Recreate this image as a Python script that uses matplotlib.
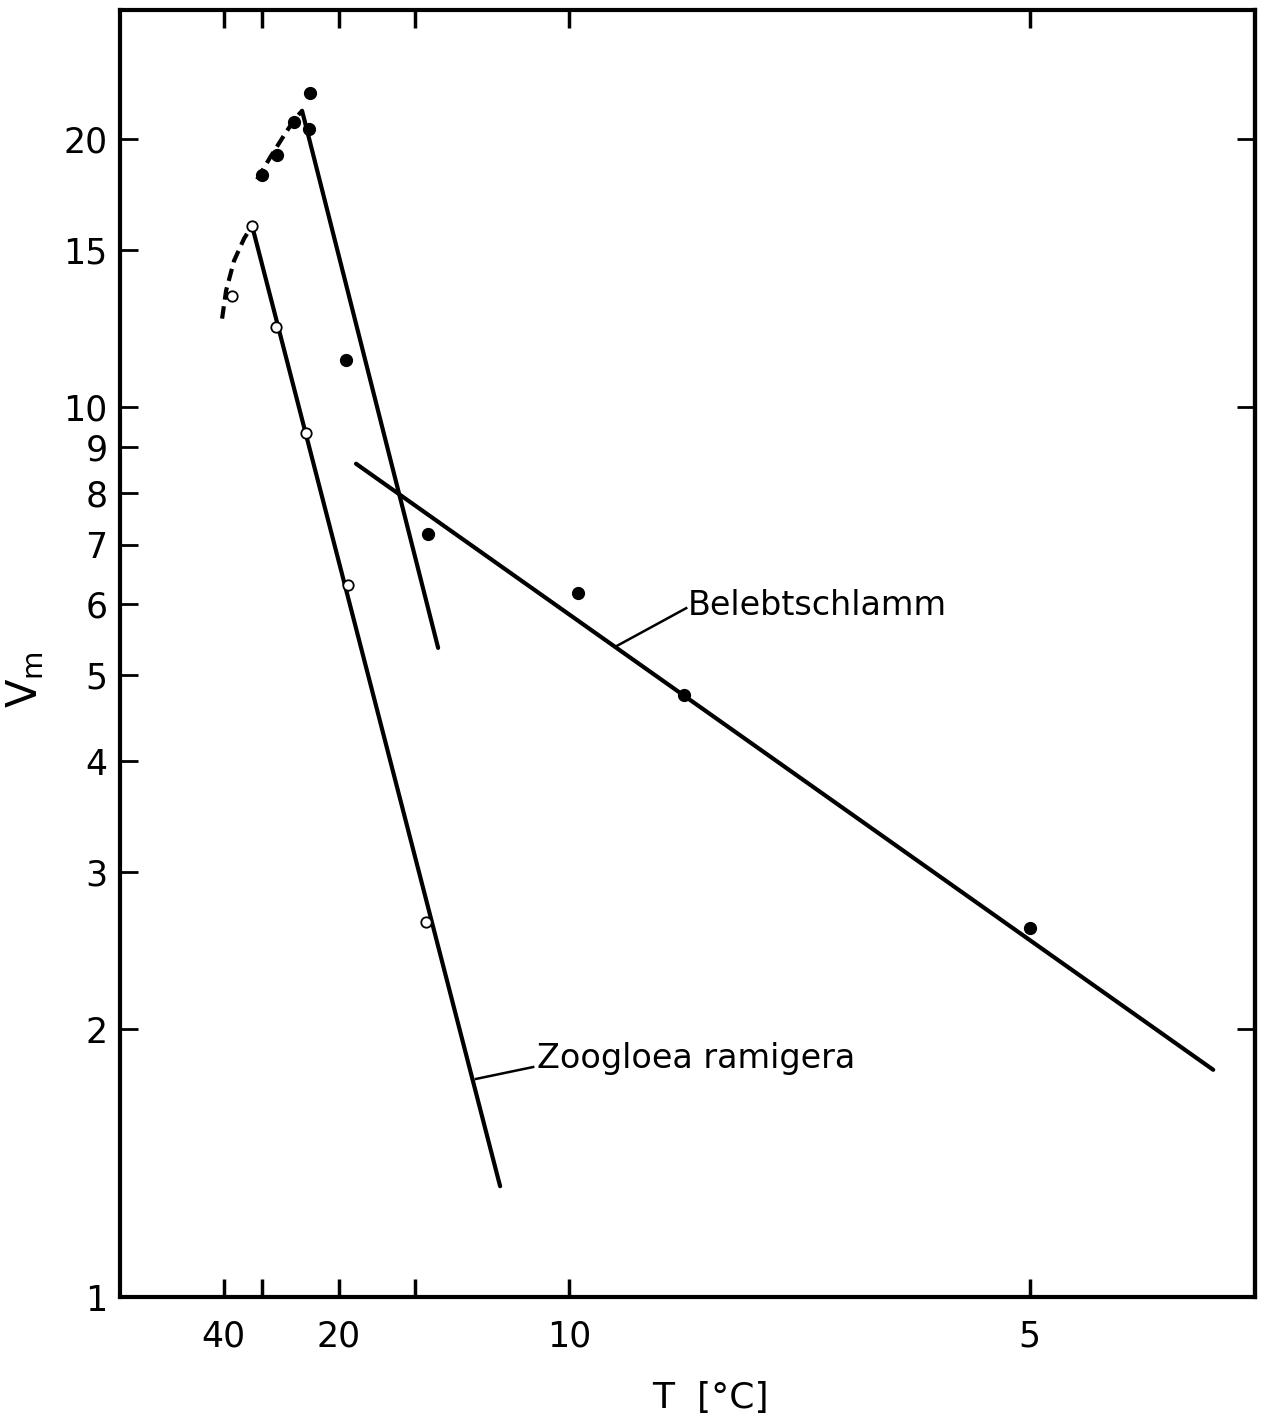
import numpy as np
import matplotlib
matplotlib.use("Agg")
import matplotlib.pyplot as plt

# Belebtschlamm (activated sludge), filled circles
bs_T = [22.8, 22.95, 24.8, 27.3, 30.0, 19.4, 14.4, 9.8, 8.0, 5.0]
bs_v = [22.5, 20.5, 20.9, 19.2, 18.2, 11.3, 7.2, 6.18, 4.75, 2.60]

# Zoogloea ramigera, open circles
zr_T = [37.2, 32.05, 27.5, 23.3, 19.2, 14.5]
zr_v = [13.3, 15.97, 12.3, 9.35, 6.31, 2.64]

# fitted lines (end points)
zr_fit_T = [32.05, 11.76]
zr_fit_v = [15.97, 1.332]
bs_steep_T = [23.78, 13.97]
bs_steep_v = [21.5, 5.36]
bs_flat_T = [18.6, 4.17]
bs_flat_v = [8.63, 1.80]

# dashed optimum curves
zr_opt_T = [40.5, 39.13, 36.64, 33.94, 32.05]
zr_opt_v = [12.56, 13.50, 14.59, 15.45, 15.97]
bs_opt_T = [30.97, 28.49, 26.07, 24.67, 23.78]
bs_opt_v = [18.0, 19.05, 20.26, 21.07, 21.5]

x_ticks = [40, 30, 20, 15, 10, 5]
x_labels = ["40", "", "20", "", "10", "5"]
y_ticks = [1, 2, 3, 4, 5, 6, 7, 8, 9, 10, 15, 20]

plt.rcParams['font.family'] = 'DejaVu Sans'
plt.rcParams['mathtext.fontset'] = 'dejavusans'

fig = plt.figure(figsize=(12.7, 14.14), dpi=100)
ax = fig.add_axes([0.0945, 0.0827, 0.8937, 0.9102])


def inv_T(t):
    t = np.asarray(t, dtype=float)
    with np.errstate(divide='ignore'):
        return 1.0 / t


ax.set_xscale('function', functions=(inv_T, inv_T))
ax.set_yscale('log')
ax.set_xlim(4.018, 394)
ax.set_ylim(1, 27.9)

lw = 3.0
ax.plot(zr_fit_T, zr_fit_v, color='black', lw=lw, solid_capstyle='round')
ax.plot(bs_steep_T, bs_steep_v, color='black', lw=lw, solid_capstyle='round')
ax.plot(bs_flat_T, bs_flat_v, color='black', lw=lw, solid_capstyle='round')
ax.plot(zr_opt_T, zr_opt_v, color='black', lw=lw, ls=(0, (3, 1.6)))
ax.plot(bs_opt_T, bs_opt_v, color='black', lw=lw, ls=(0, (3, 1.6)))

ax.plot(bs_T, bs_v, 'o', color='black', ms=8.5, zorder=5)
ax.plot(zr_T, zr_v, 'o', mfc='white', mec='black', mew=1.3, ms=7.5, zorder=5)

# curve labels with leader lines
ax.plot([9.054, 7.973], [5.39, 5.94], color='black', lw=1.8)
ax.text(7.945, 5.98, "Belebtschlamm", fontsize=24, va='center', ha='left')
ax.plot([12.53, 10.845], [1.758, 1.813], color='black', lw=1.8)
ax.text(10.744, 1.851, "Zoogloea ramigera", fontsize=24, va='center', ha='left')

ax.set_xticks(x_ticks)
ax.set_xticklabels(x_labels)
ax.xaxis.set_minor_locator(matplotlib.ticker.NullLocator())
ax.set_yticks(y_ticks)
ax.set_yticklabels([str(v) for v in y_ticks])
ax.yaxis.set_minor_locator(matplotlib.ticker.NullLocator())

ax.tick_params(axis='x', direction='in', length=13, width=2.5, top=True,
               labelsize=25, pad=16)
ax.tick_params(axis='y', direction='in', length=13, width=2.0,
               labelsize=25, pad=9)

right = ax.secondary_yaxis('right')
right.set_yticks([2, 10, 20])
right.yaxis.set_minor_locator(matplotlib.ticker.NullLocator())
right.tick_params(direction='in', length=13, width=2.0, labelright=False)
right.spines['right'].set_linewidth(lw)

for s in ax.spines.values():
    s.set_linewidth(lw)

ax.set_xlabel("T  [°C]", fontsize=26)
ax.xaxis.set_label_coords(0.52, -0.065)
ax.set_ylabel(r"$\mathrm{V_m}$", fontsize=30)
ax.yaxis.set_label_coords(-0.065, 0.48)

fig.savefig("out.png", dpi=100)
